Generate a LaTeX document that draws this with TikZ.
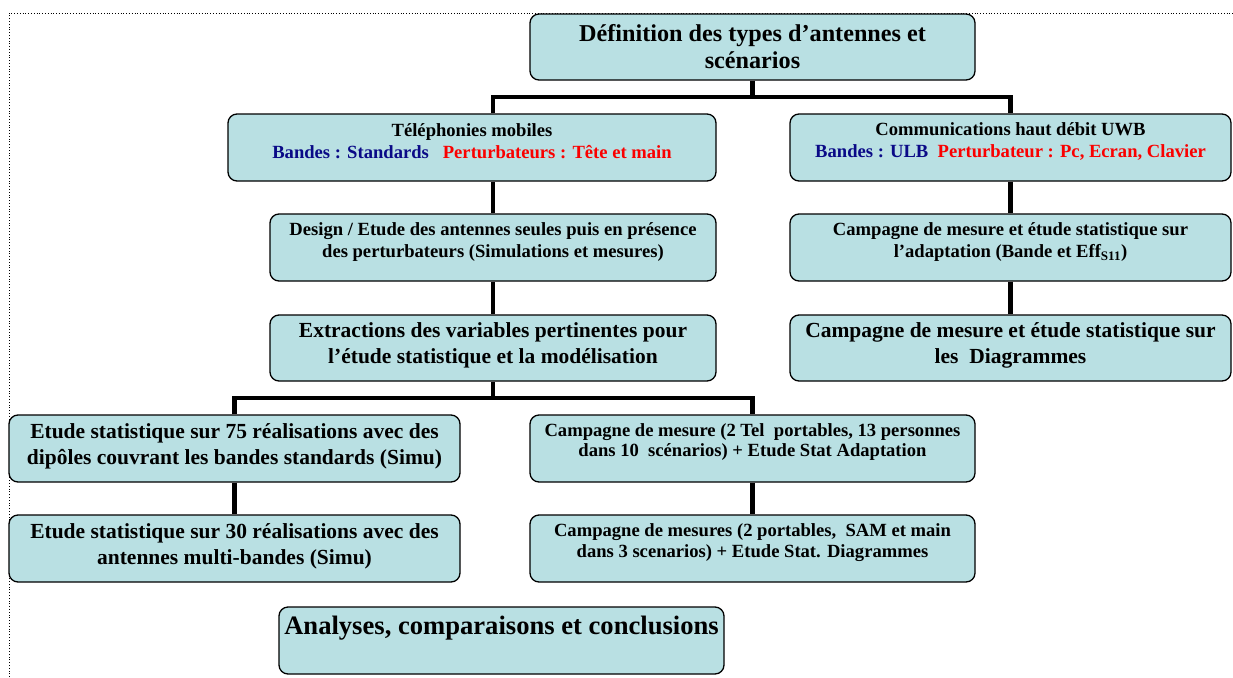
\documentclass[tikz,border=0pt]{standalone}
\usepackage{fontspec}
\setmainfont{Liberation Serif}
\definecolor{boxfill}{RGB}{185,224,227}
\definecolor{bandblue}{RGB}{10,10,135}
\definecolor{pertred}{RGB}{250,0,0}
\newcommand\fhuge{\fontsize{26.6}{32}\selectfont\bfseries}
\newcommand\fbig{\fontsize{24.2}{27}\selectfont\bfseries}
\newcommand\fmid{\fontsize{21.5}{26}\selectfont\bfseries}
\newcommand\fsmall{\fontsize{18.6}{22}\selectfont\bfseries}
\newcommand\fnarrow{\fontsize{18.6}{20.5}\selectfont\bfseries}
\begin{document}
\begin{tikzpicture}[x=1pt,y=-1pt,
    box/.style={draw=black,line width=1.3pt,rounded corners=9pt,fill=boxfill,minimum height=67pt,inner sep=0pt},
    txt/.style={align=center,inner sep=0pt},
    link/.style={line width=4.5pt}]
  \useasboundingbox (0,0) rectangle (1233,677);
  \draw[dotted,line width=0.8pt] (9,677) -- (9,13) -- (1233,13);
  % boxes
  \node[box,minimum width=445pt,minimum height=66pt] (top) at (752.5,47) {};
  \node[box,minimum width=488pt] (tel) at (472,147.5) {};
  \node[box,minimum width=441pt] (uwb) at (1010.5,147.5) {};
  \node[box,minimum width=446pt] (design) at (493,247.5) {};
  \node[box,minimum width=441pt] (adapt) at (1010.5,247.5) {};
  \node[box,minimum width=446pt,minimum height=66pt] (extr) at (493,348) {};
  \node[box,minimum width=441pt,minimum height=66pt] (diag) at (1010.5,348) {};
  \node[box,minimum width=451pt] (e75) at (234.5,448.5) {};
  \node[box,minimum width=445pt] (c2tel) at (752.5,448.5) {};
  \node[box,minimum width=451pt] (e30) at (234.5,548.5) {};
  \node[box,minimum width=445pt] (c2p) at (752.5,548.5) {};
  \node[box,minimum width=445pt] (ana) at (501.5,640.5) {};
  % texts
  \node[txt,font=\fbig] (top-t) at (top.center) {Définition des types d’antennes et\\scénarios};
  \node[txt,font=\fsmall,yshift=6.5pt] (tel-t) at (tel.center)
    {Téléphonies mobiles\\\textcolor{bandblue}{Bandes : Standards}\ \ \ \textcolor{pertred}{Perturbateurs : Tête et main}};
  \node[txt,font=\fsmall,yshift=6.5pt] (uwb-t) at (uwb.center)
    {Communications haut débit UWB\\\textcolor{bandblue}{Bandes : ULB}\ \ \textcolor{pertred}{Perturbateur : Pc, Ecran, Clavier}};
  \node[txt,font=\fsmall,yshift=5.5pt] (design-t) at (design.center)
    {Design / Etude des antennes seules puis en présence\\des perturbateurs (Simulations et mesures)};
  \node[txt,font=\fsmall,yshift=5.5pt] (adapt-t) at (adapt.center)
    {Campagne de mesure et étude statistique sur\\l’adaptation (Bande et Eff\textsubscript{S11})};
  \node[txt,font=\fmid,yshift=3pt] (extr-t) at (extr.center)
    {Extractions des variables pertinentes pour\\l’étude statistique et la modélisation};
  \node[txt,font=\fmid,yshift=3pt] (diag-t) at (diag.center)
    {Campagne de mesure et étude statistique sur\\les\ \ Diagrammes};
  \node[txt,font=\fmid,yshift=2.5pt] (e75-t) at (e75.center)
    {Etude statistique sur 75 réalisations avec des\\dipôles couvrant les bandes standards (Simu)};
  \node[txt,font=\fnarrow,yshift=6.5pt] (c2tel-t) at (c2tel.center)
    {Campagne de mesure (2 Tel\ \ portables, 13 personnes\\dans 10\ \ scénarios) + Etude Stat Adaptation};
  \node[txt,font=\fmid,yshift=2.5pt] (e30-t) at (e30.center)
    {Etude statistique sur 30 réalisations avec des\\antennes multi-bandes (Simu)};
  \node[txt,font=\fnarrow,yshift=6pt] (c2p-t) at (c2p.center)
    {Campagne de mesures (2 portables,\ \ SAM et main\\dans 3 scenarios) + Etude Stat. Diagrammes};
  \node[txt,font=\fhuge,yshift=12.5pt] (ana-t) at (ana.center) {Analyses, comparaisons et conclusions};
  % connectors
  \coordinate (jA) at (752.5,97);
  \coordinate (jB) at (493,398);
  \draw[link] (top.south) -- (jA);
  \draw[link] (tel.north -| design.north) |- (jA) -| (uwb.north);
  \draw[link] (tel.south -| design.north) -- (design.north);
  \draw[link] (design.south) -- (extr.north);
  \draw[link] (uwb.south) -- (adapt.north);
  \draw[link] (adapt.south) -- (diag.north);
  \draw[link] (extr.south) -- (jB);
  \draw[link] (e75.north) |- (jB) -| (c2tel.north);
  \draw[link] (e75.south) -- (e30.north);
  \draw[link] (c2tel.south) -- (c2p.north);
\end{tikzpicture}
\end{document}
